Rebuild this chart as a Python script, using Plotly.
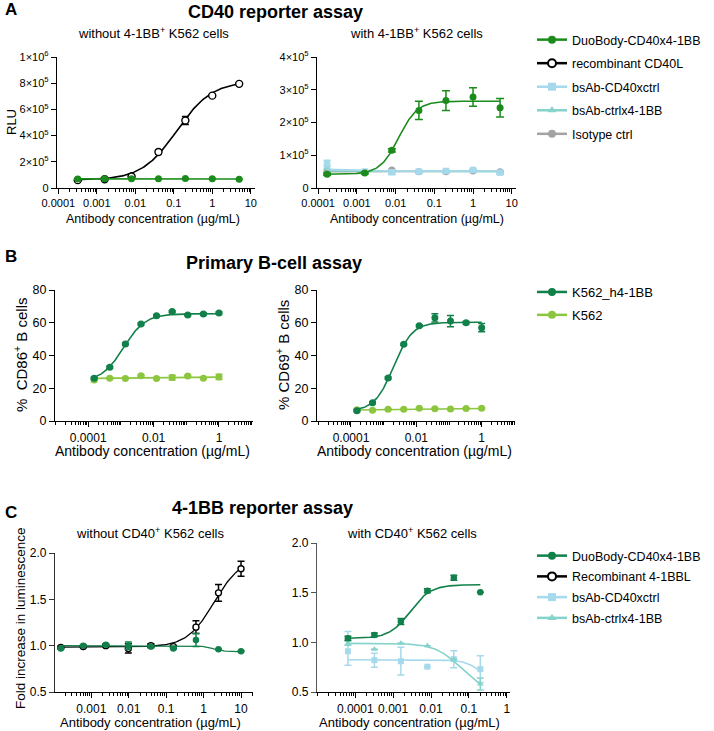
import numpy as np
import plotly.graph_objects as go

W, H = 714, 731
FONT = "Liberation Sans, Arial, Helvetica, sans-serif"

# ---------------- Panel A: CD40 reporter assay (RLU) ----------------
conc_A_without = [0.00032, 0.0016, 0.008, 0.04, 0.2, 1.0, 5.0]
conc_A_with = [0.00017, 0.0016, 0.008, 0.04, 0.2, 1.0, 5.0]

A_wo_duobody = [68000, 70000, 70000, 70000, 72000, 70000, 66000]
A_wo_duobody_err = [3000, 2000, 2000, 2000, 2000, 2000, 2000]
A_wo_cd40l = [60000, 67000, 88000, 275000, 515000, 705000, 795000]
A_wo_cd40l_err = [3000, 3000, 8000, 15000, 30000, 8000, 5000]

A_w_duobody = [42000, 46000, 115000, 237000, 267000, 278000, 245000]
A_w_duobody_err = [3000, 3000, 5000, 28000, 30000, 28000, 28000]
A_w_cd40xctrl = [75000, 50000, 48000, 50000, 52000, 55000, 47000]
A_w_cd40xctrl_err = [10000, 3000, 5000, 5000, 4000, 4000, 5000]
A_w_ctrlx41bb = [62000, 48000, 46000, 50000, 50000, 55000, 45000]
A_w_ctrlx41bb_err = [5000, 3000, 3000, 3000, 3000, 3000, 3000]
A_w_isotype = [50000, 48000, 55000, 50000, 50000, 52000, 50000]
A_w_isotype_err = [2000, 2000, 2000, 2000, 2000, 2000, 2000]

# 4PL fit parameters: [bottom, top, EC50, Hill]
fit_A_wo_duobody = [70000, 68000, 1.0, 1.0]
fit_A_wo_cd40l = [60000, 815000, 0.12, 0.95]
fit_A_w_duobody = [42000, 265000, 0.012, 1.8]
fit_A_w_cd40xctrl = [58000, 52000, 0.0004, 2.0]
fit_A_w_ctrlx41bb = [52000, 50000, 0.001, 1.0]
fit_A_w_isotype = [50000, 51000, 0.01, 1.0]

# ---------------- Panel B: Primary B-cell assay (%) ----------------
conc_B = [0.000152, 0.000457, 0.00137, 0.00412, 0.0123, 0.037, 0.111, 0.333, 1.0]

B_cd86_h41bb = [26.1, 32.8, 47.0, 59.3, 64.2, 66.8, 64.8, 65.4, 66.0]
B_cd86_h41bb_err = [0.6, 0.6, 0.6, 0.6, 0.6, 0.6, 0.6, 0.6, 0.6]
B_cd86_k562 = [25.0, 26.1, 26.0, 27.6, 26.0, 26.5, 27.5, 26.1, 26.9]
B_cd86_k562_err = [0.9, 0.5, 0.5, 0.5, 0.5, 1.5, 0.5, 0.5, 1.6]

B_cd69_h41bb = [6.3, 11.1, 26.2, 46.8, 58.2, 63.0, 61.0, 60.0, 57.0]
B_cd69_h41bb_err = [0.6, 0.6, 0.6, 0.6, 0.6, 2.5, 3.5, 0.8, 2.5]
B_cd69_k562 = [6.8, 6.6, 7.1, 7.2, 7.8, 7.5, 7.3, 7.6, 7.8]
B_cd69_k562_err = [0.4, 0.4, 0.4, 0.4, 0.4, 0.4, 0.4, 0.4, 0.4]

fit_B86_h41bb = [24.0, 65.5, 0.0012, 1.3]
fit_B86_k562 = [25.7, 26.8, 0.001, 0.5]
fit_B69_h41bb = [6.0, 60.3, 0.002, 1.5]
fit_B69_k562 = [6.6, 7.7, 0.005, 0.7]

# ---------------- Panel C: 4-1BB reporter assay (fold) ----------------
conc_C_without = [0.000153, 0.00061, 0.00244, 0.00977, 0.0391, 0.156, 0.625, 2.5, 10.0]
conc_C_with = [0.000064, 0.00032, 0.0016, 0.008, 0.04, 0.2]

C_wo_duobody = [0.97, 1.00, 1.01, 1.00, 0.99, 0.97, 1.06, 0.96, 0.94]
C_wo_duobody_err = [0.01, 0.01, 0.01, 0.04, 0.01, 0.01, 0.07, 0.005, 0.005]
C_wo_41bbl = [0.98, 0.99, 1.00, 0.97, 1.00, 0.99, 1.20, 1.57, 1.83]
C_wo_41bbl_err = [0.01, 0.01, 0.01, 0.05, 0.02, 0.01, 0.07, 0.09, 0.08]

C_w_duobody = [1.04, 1.075, 1.21, 1.52, 1.65, 1.505]
C_w_duobody_err = [0.02, 0.02, 0.03, 0.02, 0.025, 0.0]
C_w_cd40xctrl = [0.91, 0.82, 0.81, 0.755, 0.83, 0.73]
C_w_cd40xctrl_err = [0.2, 0.07, 0.14, 0.0, 0.085, 0.135]
C_w_cd40xctrl_errminus = [0.14, 0.07, 0.14, 0.0, 0.085, 0.135]
C_w_ctrlx41bb = [0.99, 0.93, 0.99, 0.965, 0.83, 0.58]
C_w_ctrlx41bb_err = [0.02, 0.0, 0.0, 0.0, 0.0, 0.06]

fit_C_wo_duobody = [1.0, 0.935, 1.8, 3.0]
fit_C_wo_41bbl = [0.985, 1.95, 1.9, 1.2]
fit_C_w_duobody = [1.04, 1.58, 0.0028, 1.6]
fit_C_w_cd40xctrl = [0.825, 0.60, 0.2, 2.0]
fit_C_w_ctrlx41bb = [0.99, 0.50, 0.06, 1.3]

# ---------------- styling ----------------
GREEN_A = "#1b8c1b"
DKGREEN = "#11804a"
LTGREEN = "#8cc63f"
LTBLUE = "#a6d9ec"
TEAL = "#85d3cb"
GRAY = "#a3a3a3"
BLACK = "#000000"


def fit_curve(conc, p):
    x = np.logspace(np.log10(min(conc)), np.log10(max(conc)), 150)
    b, t, ec, h = p
    return x, b + (t - b) / (1 + (ec / x) ** h)


fig = go.Figure()


def add_series(ax, conc, vals, err, fit, color, symbol="circle", size=7,
               errminus=None, lw=1.6, open_=False, capw=3.5):
    xa, ya = ("x" + ax, "y" + ax) if ax != "1" else ("x", "y")
    fx, fy = fit_curve(conc, fit)
    fig.add_trace(go.Scatter(x=fx, y=fy, mode="lines", xaxis=xa, yaxis=ya,
                             line=dict(color=color, width=lw), showlegend=False,
                             hoverinfo="skip"))
    ey = dict(type="data", array=err, color=color, thickness=1.5, width=capw)
    if errminus is not None:
        ey["arrayminus"] = errminus
        ey["symmetric"] = False
    mk = dict(symbol=symbol, size=size, color=color)
    if open_:
        mk = dict(symbol="circle", size=size, color="white", line=dict(color=color, width=1.4))
    fig.add_trace(go.Scatter(x=conc, y=vals, mode="markers", xaxis=xa, yaxis=ya,
                             marker=mk, error_y=ey, showlegend=False))


def add_legend_item(name, color, symbol, legend, group, open_=False, size=8):
    mk = dict(symbol=symbol, size=size, color=color)
    if open_:
        mk = dict(symbol="circle", size=size, color="white", line=dict(color=color, width=2))
    fig.add_trace(go.Scatter(x=[None], y=[None], mode="lines+markers", name=name,
                             marker=mk, line=dict(color=color, width=2.5),
                             legend=legend, legendgroup=group, showlegend=True))


# Panel A
add_series("1", conc_A_without, A_wo_cd40l, A_wo_cd40l_err, fit_A_wo_cd40l, BLACK,
           size=7, open_=True)
add_series("1", conc_A_without, A_wo_duobody, A_wo_duobody_err, fit_A_wo_duobody, GREEN_A)
add_series("2", conc_A_with, A_w_isotype, A_w_isotype_err, fit_A_w_isotype, GRAY)
add_series("2", conc_A_with, A_w_ctrlx41bb, A_w_ctrlx41bb_err, fit_A_w_ctrlx41bb, TEAL,
           symbol="triangle-up", size=7)
add_series("2", conc_A_with, A_w_cd40xctrl, A_w_cd40xctrl_err, fit_A_w_cd40xctrl, LTBLUE,
           symbol="square", size=6.5)
add_series("2", conc_A_with, A_w_duobody, A_w_duobody_err, fit_A_w_duobody, GREEN_A, capw=4)

# Panel B
add_series("3", conc_B, B_cd86_k562, B_cd86_k562_err, fit_B86_k562, LTGREEN)
add_series("3", conc_B, B_cd86_h41bb, B_cd86_h41bb_err, fit_B86_h41bb, DKGREEN)
add_series("4", conc_B, B_cd69_k562, B_cd69_k562_err, fit_B69_k562, LTGREEN)
add_series("4", conc_B, B_cd69_h41bb, B_cd69_h41bb_err, fit_B69_h41bb, DKGREEN)

# Panel C
add_series("5", conc_C_without, C_wo_41bbl, C_wo_41bbl_err, fit_C_wo_41bbl, BLACK,
           size=6, open_=True, lw=1.3)
add_series("5", conc_C_without, C_wo_duobody, C_wo_duobody_err, fit_C_wo_duobody, DKGREEN,
           size=6.5, lw=1.3)
add_series("6", conc_C_with, C_w_cd40xctrl, C_w_cd40xctrl_err, fit_C_w_cd40xctrl, LTBLUE,
           symbol="square", size=6, errminus=C_w_cd40xctrl_errminus)
add_series("6", conc_C_with, C_w_ctrlx41bb, C_w_ctrlx41bb_err, fit_C_w_ctrlx41bb, TEAL,
           symbol="triangle-up", size=6)
add_series("6", conc_C_with, C_w_duobody, C_w_duobody_err, fit_C_w_duobody, DKGREEN,
           size=6.5)

# legends
add_legend_item("DuoBody-CD40x4-1BB", GREEN_A, "circle", "legend", "a1")
add_legend_item("recombinant CD40L", BLACK, "circle", "legend", "a2", open_=True)
add_legend_item("bsAb-CD40xctrl", LTBLUE, "square", "legend", "a3")
add_legend_item("bsAb-ctrlx4-1BB", TEAL, "triangle-up", "legend", "a4")
add_legend_item("Isotype ctrl", GRAY, "circle", "legend", "a5")
add_legend_item("K562_h4-1BB", DKGREEN, "circle", "legend2", "b1")
add_legend_item("K562", LTGREEN, "circle", "legend2", "b2")
add_legend_item("DuoBody-CD40x4-1BB", DKGREEN, "circle", "legend3", "c1")
add_legend_item("Recombinant 4-1BBL", BLACK, "circle", "legend3", "c2", open_=True)
add_legend_item("bsAb-CD40xctrl", LTBLUE, "square", "legend3", "c3")
add_legend_item("bsAb-ctrlx4-1BB", TEAL, "triangle-up", "legend3", "c4")


def xd(x0, x1):
    return [x0 / W, x1 / W]


def yd(top, bottom):
    return [1 - bottom / H, 1 - top / H]


def minor_vals(decades_unlabeled, lo=-6, hi=2):
    vals = [m * 10.0 ** e for e in range(lo, hi) for m in range(2, 10)]
    return vals + decades_unlabeled


def xaxis(dom, rng, tv, tt, mv, fs, anchor):
    return dict(type="log", domain=dom, range=rng, tickmode="array", tickvals=tv,
                ticktext=tt, ticks="outside", ticklen=5, tickwidth=1.2, tickcolor="black",
                showline=True, linecolor="black", linewidth=1.3, showgrid=False,
                zeroline=False, anchor=anchor, automargin=False,
                tickfont=dict(size=fs, color="black", family=FONT),
                minor=dict(tickmode="array", tickvals=mv, ticks="outside", ticklen=2.5,
                           tickwidth=1, tickcolor="black", showgrid=False))


def yaxis(dom, rng, tv, tt, fs, anchor, lc="black"):
    return dict(domain=dom, range=rng, tickmode="array", tickvals=tv, ticktext=tt,
                ticks="outside", ticklen=5, tickwidth=1.2, tickcolor=lc, showline=True,
                linecolor=lc, linewidth=1.3, showgrid=False, zeroline=False,
                automargin=False, anchor=anchor,
                tickfont=dict(size=fs, color="black", family=FONT))


decA = [1e-4, 1e-3, 1e-2, 1e-1, 1, 10]
decA_t = ["0.0001", "0.001", "0.01", "0.1", "1", "10"]
A_left_ticks = [0, 2e5, 4e5, 6e5, 8e5, 1e6]
A_left_ticktext = ["0", "2×10<sup>5</sup>", "4×10<sup>5</sup>", "6×10<sup>5</sup>",
                   "8×10<sup>5</sup>", "1×10<sup>6</sup>"]
A_right_ticks = [0, 1e5, 2e5, 3e5, 4e5]
A_right_ticktext = ["0", "1×10<sup>5</sup>", "2×10<sup>5</sup>", "3×10<sup>5</sup>",
                    "4×10<sup>5</sup>"]
B_x_ticks = [1e-4, 1e-2, 1]
B_x_ticktext = ["0.0001", "0.01", "1"]
B_y_ticks = [0, 20, 40, 60, 80]
C_left_xticks = [1e-3, 1e-2, 1e-1, 1, 10]
C_left_xticktext = ["0.001", "0.01", "0.1", "1", "10"]
C_right_xticks = [1e-4, 1e-3, 1e-2, 1e-1, 1]
C_right_xticktext = ["0.0001", "0.001", "0.01", "0.1", "1"]
C_y_ticks = [0.5, 1.0, 1.5, 2.0]
C_y_ticktext = ["0.5", "1.0", "1.5", "2.0"]

fig.update_layout(
    xaxis=xaxis(xd(57, 255), [-4.034, 1.11], decA, decA_t, minor_vals([]), 11, "y"),
    yaxis=yaxis(yd(57, 188), [0, 1e6], A_left_ticks, A_left_ticktext, 11, "x"),
    xaxis2=xaxis(xd(317, 516), [-4.03, 1.11], decA, decA_t, minor_vals([]), 11, "y2"),
    yaxis2=yaxis(yd(57, 188), [0, 4e5], A_right_ticks, A_right_ticktext, 11, "x2"),
    xaxis3=xaxis(xd(55, 253), [-5.015, 1.04], B_x_ticks, B_x_ticktext,
                 minor_vals([1e-5, 1e-3, 1e-1, 10]), 12, "y3"),
    yaxis3=yaxis(yd(290, 421), [0, 80], B_y_ticks, None, 12.5, "x3"),
    xaxis4=xaxis(xd(317, 515), [-5.04, 1.02], B_x_ticks, B_x_ticktext,
                 minor_vals([1e-5, 1e-3, 1e-1, 10]), 12, "y4"),
    yaxis4=yaxis(yd(290, 421), [0, 80], B_y_ticks, None, 12.5, "x4"),
    xaxis5=xaxis(xd(55, 253), [-3.97, 1.32], C_left_xticks, C_left_xticktext,
                 minor_vals([1e-4]), 12, "y5"),
    yaxis5=yaxis(yd(553, 692), [0.5, 2.0], C_y_ticks, C_y_ticktext, 12, "x5", lc="#333333"),
    xaxis6=xaxis(xd(317, 510), [-5.01, 0.085], C_right_xticks, C_right_xticktext,
                 minor_vals([1e-5]), 12, "y6"),
    yaxis6=yaxis(yd(543, 692), [0.5, 2.0], C_y_ticks, C_y_ticktext, 12, "x6", lc="#555555"),
)

leg_common = dict(xanchor="left", yanchor="top", bgcolor="rgba(0,0,0,0)", itemwidth=30)
fig.update_layout(
    legend=dict(x=532 / W, y=1 - 25 / H, tracegroupgap=4.3,
                font=dict(size=12.5, color="black", family=FONT), **leg_common),
    legend2=dict(x=532 / W, y=1 - 277 / H, tracegroupgap=3,
                 font=dict(size=13, color="black", family=FONT), **leg_common),
    legend3=dict(x=532 / W, y=1 - 541 / H, tracegroupgap=1.5,
                 font=dict(size=12.5, color="black", family=FONT), **leg_common),
)

ann = []


def txt(x, y, s, size, bold=False, angle=0, xanchor="center"):
    ann.append(dict(x=x / W, y=1 - y / H, xref="paper", yref="paper", text=s,
                    showarrow=False, textangle=angle, xanchor=xanchor, yanchor="middle",
                    font=dict(size=size, color="black", family=FONT)))
    if bold:
        ann[-1]["text"] = "<b>" + s + "</b>"


txt(3, 10, "A", 17, bold=True, xanchor="left")
txt(275, 12, "CD40 reporter assay", 18, bold=True)
txt(153, 33, "without 4-1BB<sup>+</sup> K562 cells", 13)
txt(416, 33, "with 4-1BB<sup>+</sup> K562 cells", 13)
txt(12, 122, "RLU", 13, angle=-90)
txt(153, 219, "Antibody concentration (µg/mL)", 12.5)
txt(417, 219, "Antibody concentration (µg/mL)", 12.5)

txt(3, 256, "B", 17, bold=True, xanchor="left")
txt(274, 263, "Primary B-cell assay", 18, bold=True)
txt(20, 355, "%  CD86<sup>+</sup> B cells", 15, angle=-90)
txt(282, 355, "% CD69<sup>+</sup> B cells", 15, angle=-90)
txt(152, 451, "Antibody concentration (µg/mL)", 14)
txt(414, 451, "Antibody concentration (µg/mL)", 14)

txt(3, 512, "C", 17, bold=True, xanchor="left")
txt(262, 508, "4-1BB reporter assay", 18, bold=True)
txt(150, 533, "without CD40<sup>+</sup> K562 cells", 13)
txt(412, 533, "with CD40<sup>+</sup> K562 cells", 13)
txt(20, 618, "Fold increase in luminescence", 13.5, angle=-90)
txt(150, 722, "Antibody concentration (µg/mL)", 13)
txt(410, 722, "Antibody concentration (µg/mL)", 13)

fig.update_layout(annotations=ann, width=W, height=H,
                  margin=dict(l=0, r=0, t=0, b=0, autoexpand=False),
                  plot_bgcolor="white", paper_bgcolor="white",
                  font=dict(family=FONT, color="black"))

fig.write_html("out.html", config={"displayModeBar": False},
               post_script="document.body.style.margin='0';document.body.style.padding='0';"
                           "document.body.style.overflow='hidden';")
